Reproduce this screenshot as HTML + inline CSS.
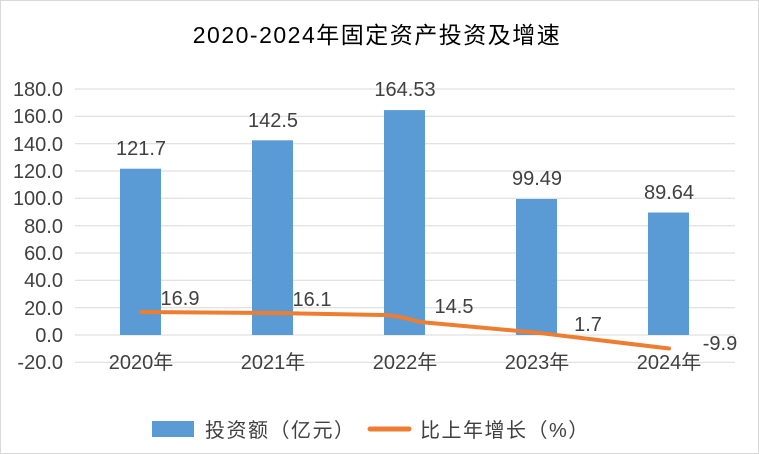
<!DOCTYPE html>
<html><head><meta charset="utf-8"><style>
html,body{margin:0;padding:0;background:#fff}
svg{display:block}
text{font-family:"Liberation Sans Narrow","Liberation Sans","Noto Sans CJK SC",sans-serif;fill:#404040}
</style></head><body>
<svg width="759" height="454" viewBox="0 0 759 454" xmlns="http://www.w3.org/2000/svg">
<rect x="0.5" y="0.5" width="758" height="453" fill="#fff" stroke="#d9d9d9"/>
<text x="377" y="43" text-anchor="middle" font-size="23" letter-spacing="1.5" style="fill:#000">2020-2024年固定资产投资及增速</text>
<g stroke="#d9d9d9" stroke-width="1">
<line x1="75" x2="735" y1="89" y2="89"/><line x1="75" x2="735" y1="116.3" y2="116.3"/>
<line x1="75" x2="735" y1="143.7" y2="143.7"/><line x1="75" x2="735" y1="171" y2="171"/>
<line x1="75" x2="735" y1="198.3" y2="198.3"/><line x1="75" x2="735" y1="225.7" y2="225.7"/>
<line x1="75" x2="735" y1="253" y2="253"/><line x1="75" x2="735" y1="280.3" y2="280.3"/>
<line x1="75" x2="735" y1="307.7" y2="307.7"/><line x1="75" x2="735" y1="335" y2="335"/>
<line x1="75" x2="735" y1="362.3" y2="362.3"/>
</g>
<g font-size="20" text-anchor="end">
<text x="63" y="96">180.0</text><text x="63" y="123">160.0</text><text x="63" y="151">140.0</text>
<text x="63" y="178">120.0</text><text x="63" y="205">100.0</text><text x="63" y="233">80.0</text>
<text x="63" y="260">60.0</text><text x="63" y="287">40.0</text><text x="63" y="315">20.0</text>
<text x="63" y="342">0.0</text><text x="63" y="369">-20.0</text>
</g>
<g fill="#5b9bd5">
<rect x="120" y="168.7" width="41" height="166.3"/>
<rect x="252" y="140.3" width="41" height="194.7"/>
<rect x="384" y="110.1" width="41" height="224.9"/>
<rect x="516" y="199" width="41" height="136"/>
<rect x="648" y="212.5" width="41" height="122.5"/>
</g>
<path d="M141,312 L273,313 L385,315 Q400,316 420,322 L537,332.7 L669,348.5" fill="none" stroke="#ed7d31" stroke-width="4" stroke-linecap="round" stroke-linejoin="round"/>
<g font-size="20" text-anchor="middle">
<text x="141" y="155">121.7</text><text x="273" y="127">142.5</text><text x="405" y="96">164.53</text>
<text x="537" y="185">99.49</text><text x="669" y="199">89.64</text>
<text x="180" y="305">16.9</text><text x="312" y="306">16.1</text><text x="454" y="313">14.5</text>
<text x="588" y="331">1.7</text><text x="720" y="350">-9.9</text>
</g>
<g font-size="20" text-anchor="middle">
<text x="141" y="369">2020年</text><text x="273" y="369">2021年</text><text x="405" y="369">2022年</text>
<text x="537" y="369">2023年</text><text x="669" y="369">2024年</text>
</g>
<rect x="152" y="421" width="42" height="16" fill="#5b9bd5"/>
<text x="205" y="437" font-size="20" letter-spacing="1.5">投资额（亿元）</text>
<line x1="370" x2="409" y1="429" y2="429" stroke="#ed7d31" stroke-width="5" stroke-linecap="round"/>
<text x="420" y="437" font-size="20" letter-spacing="1.5">比上年增长（%）</text>
</svg>
</body></html>
